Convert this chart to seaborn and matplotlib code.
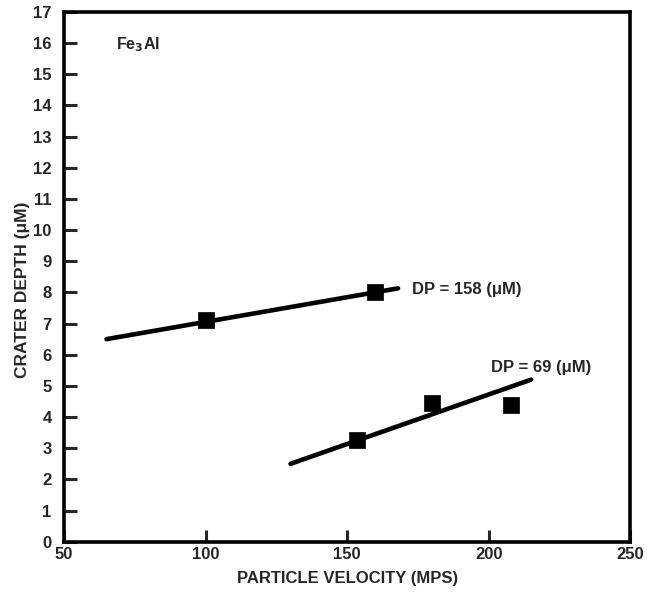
import matplotlib
matplotlib.use("Agg")
import matplotlib.pyplot as plt
import seaborn as sns
import pandas as pd

sns.set_style("white")
plt.rcParams['font.family'] = ['Liberation Sans', 'DejaVu Sans']
plt.rcParams['font.weight'] = 'bold'

# data
vel_158 = [100, 160]
depth_158 = [7.1, 8.0]
fit_vel_158 = [65, 168]
fit_depth_158 = [6.5, 8.13]

vel_69 = [153.5, 180, 208]
depth_69 = [3.25, 4.45, 4.4]
fit_vel_69 = [130, 215]
fit_depth_69 = [2.5, 5.2]

x_ticks = [50, 100, 150, 200, 250]
y_ticks = list(range(0, 18))

pts = pd.DataFrame({
    "v": vel_158 + vel_69,
    "d": depth_158 + depth_69,
    "s": ["158"] * len(vel_158) + ["69"] * len(vel_69),
})
fits = pd.DataFrame({
    "v": fit_vel_158 + fit_vel_69,
    "d": fit_depth_158 + fit_depth_69,
    "s": ["158"] * 2 + ["69"] * 2,
})

fig = plt.figure(figsize=(6.47, 5.94), dpi=100)
ax = fig.add_axes([0.099, 0.088, 0.875, 0.892])

sns.lineplot(data=fits, x="v", y="d", units="s", estimator=None, color="black",
             linewidth=3.3, ax=ax, legend=False)
sns.scatterplot(data=pts, x="v", y="d", marker="s", s=135, color="black",
                edgecolor="black", linewidth=0.5, ax=ax, legend=False, zorder=5)

ax.set_xlim(50, 250)
ax.set_ylim(0, 17)
ax.set_xticks(x_ticks)
ax.set_yticks(y_ticks)
ax.set_xticklabels([str(t) for t in x_ticks], fontsize=12, fontweight='bold')
ax.set_yticklabels([str(t) for t in y_ticks], fontsize=12, fontweight='bold')
ax.tick_params(axis='both', direction='in', length=9, width=2.2)
ax.tick_params(axis='x', top=False, bottom=True, pad=4)
ax.tick_params(axis='y', left=True, right=False, pad=9)
for sp in ax.spines.values():
    sp.set_linewidth(2.6)
    sp.set_color("black")

ax.set_xlabel("PARTICLE VELOCITY (MPS)", fontsize=12, fontweight='bold', labelpad=6)
ax.set_ylabel("CRATER DEPTH (μM)", fontsize=12.5, fontweight='bold')
ax.yaxis.set_label_coords(-0.061, 0.475)

ax.text(68.5, 15.95, "Fe$_\\mathbf{3}$Al", fontsize=11.5, fontweight='bold', va='center', ha='left')
ax.text(173, 8.1, "DP = 158 (μM)", fontsize=12, fontweight='bold', va='center', ha='left')
ax.text(201, 5.6, "DP = 69 (μM)", fontsize=12, fontweight='bold', va='center', ha='left')

fig.savefig("out.png", dpi=100)
